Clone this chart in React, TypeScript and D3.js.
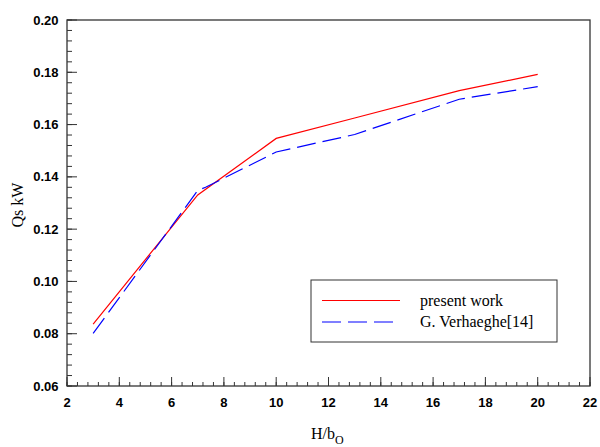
import React from "react";
import * as d3 from "d3";

const presentX = [3, 7, 10, 13, 17, 20];
const presentY = [0.0837, 0.1331, 0.1547, 0.1625, 0.1730, 0.1792];
const verhX = [3, 7, 7.3, 10, 13, 17, 20];
const verhY = [0.0801, 0.1348, 0.1360, 0.1495, 0.1562, 0.1697, 0.1745];
const xTicks = [2, 4, 6, 8, 10, 12, 14, 16, 18, 20, 22];
const yTicks = [0.06, 0.08, 0.1, 0.12, 0.14, 0.16, 0.18, 0.2];
const seriesNames = ["present work", "G. Verhaeghe[14]"];

const W = 600, H = 447;
const L = 67, R = 590, T = 20, B = 386;

export default function App() {
  const x = d3.scaleLinear().domain([2, 22]).range([L, R]);
  const y = d3.scaleLinear().domain([0.06, 0.2]).range([B, T]);
  const line = d3.line<[number, number]>().x(d => x(d[0])).y(d => y(d[1]));
  const red = line(presentX.map((v, i) => [v, presentY[i]] as [number, number])) || "";
  const blue = line(verhX.map((v, i) => [v, verhY[i]] as [number, number])) || "";

  const xMinor = d3.range(0, 51).map(i => 2 + i * 0.4);
  const yMinor = d3.range(0, 36).map(i => 0.06 + i * 0.004);
  const axisColor = "#333";

  return (
    <svg width={W} height={H} style={{ position: "absolute", left: 0, top: 0, background: "#fff" }}>
      <rect x={0} y={0} width={W} height={H} fill="#fff" />
      {/* minor ticks */}
      {xMinor.map((v, i) => (
        <line key={"xm" + i} x1={x(v)} x2={x(v)} y1={B} y2={B - 4} stroke={axisColor} strokeWidth={1} />
      ))}
      {xTicks.map((v, i) => (
        <line key={"xM" + i} x1={x(v)} x2={x(v)} y1={B} y2={B - 9} stroke={axisColor} strokeWidth={1} />
      ))}
      {yMinor.map((v, i) => (
        <line key={"ym" + i} x1={L} x2={L + 5} y1={y(v)} y2={y(v)} stroke={axisColor} strokeWidth={1} />
      ))}
      {yTicks.map((v, i) => (
        <line key={"yM" + i} x1={L} x2={L + 10} y1={y(v)} y2={y(v)} stroke={axisColor} strokeWidth={1} />
      ))}
      <rect x={L} y={T} width={R - L} height={B - T} fill="none" stroke={axisColor} strokeWidth={1.3} />
      {/* tick labels */}
      {xTicks.map((v, i) => (
        <text key={"xl" + i} x={x(v)} y={407} textAnchor="middle"
          fontFamily="Liberation Sans, Arial, sans-serif" fontWeight="bold" fontSize={13} fill="#000">
          {v}
        </text>
      ))}
      {yTicks.map((v, i) => (
        <text key={"yl" + i} x={58.5} y={y(v) + 4.6} textAnchor="end"
          fontFamily="Liberation Sans, Arial, sans-serif" fontWeight="bold" fontSize={13} fill="#000">
          {v.toFixed(2)}
        </text>
      ))}
      {/* data */}
      <path d={red} fill="none" stroke="#ff0000" strokeWidth={1.2} />
      <path d={blue} fill="none" stroke="#0000ff" strokeWidth={1.2} strokeDasharray="19 7" />
      {/* axis titles */}
      <text x={0} y={0} transform={`translate(23,205) rotate(-90)`} textAnchor="middle"
        fontFamily="Liberation Serif, Times New Roman, serif" fontSize={16} fill="#000">
        Qs kW
      </text>
      <text x={311} y={439} fontFamily="Liberation Serif, Times New Roman, serif" fontSize={16} fill="#000">
        H/b<tspan fontSize={12} dy={5}>O</tspan>
      </text>
      {/* legend */}
      <rect x={311} y={280} width={246} height={62} fill="#fff" stroke={axisColor} strokeWidth={1} />
      <line x1={322} x2={400} y1={300.5} y2={300.5} stroke="#ff0000" strokeWidth={1.2} />
      <line x1={322} x2={400} y1={322} y2={322} stroke="#0000ff" strokeWidth={1.2} strokeDasharray="19 7" />
      <text x={420} y={305.5} fontFamily="Liberation Serif, Times New Roman, serif" fontSize={16} fill="#000">
        {seriesNames[0]}
      </text>
      <text x={420} y={327} fontFamily="Liberation Serif, Times New Roman, serif" fontSize={16} fill="#000">
        {seriesNames[1]}
      </text>
    </svg>
  );
}
